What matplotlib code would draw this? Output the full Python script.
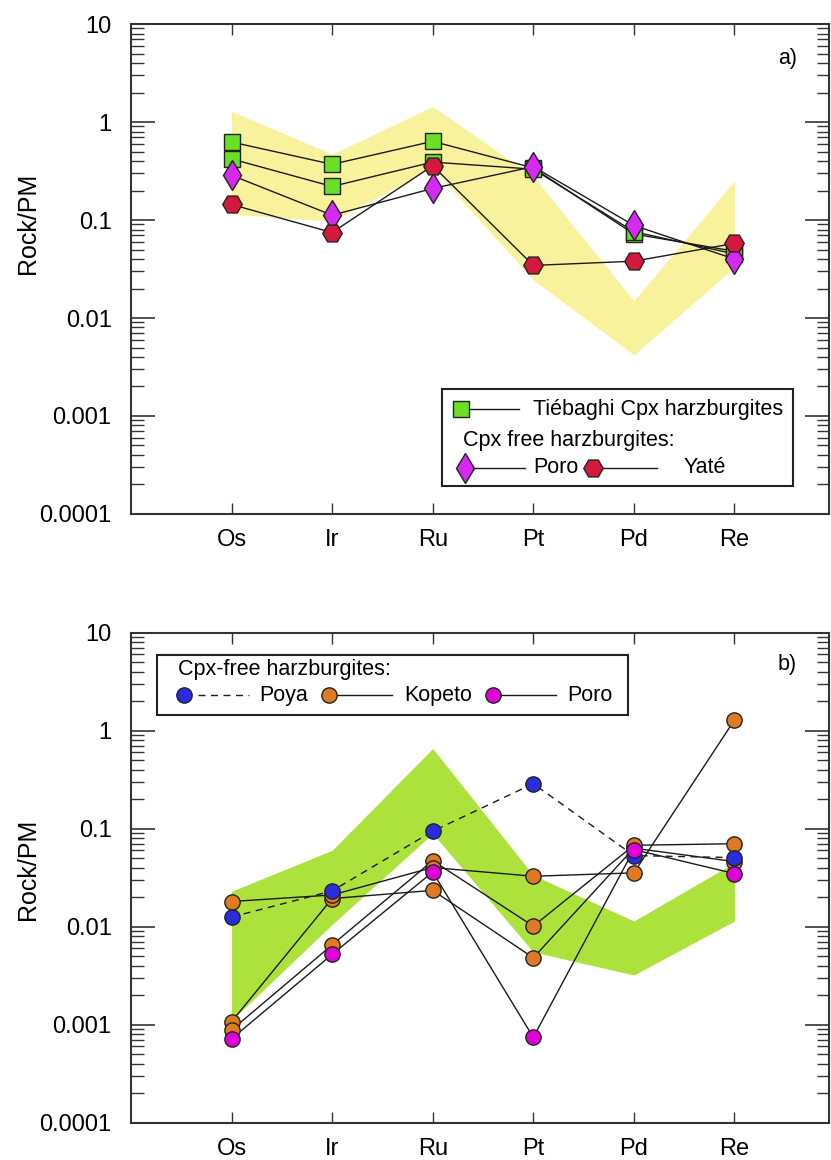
import matplotlib
matplotlib.use("Agg")
import matplotlib.pyplot as plt
from matplotlib.ticker import FixedLocator, LogLocator, NullFormatter
from matplotlib.patches import Rectangle

plt.rcParams['font.family'] = ['Liberation Sans', 'DejaVu Sans']

# categories
elements = ['Os', 'Ir', 'Ru', 'Pt', 'Pd', 'Re']
xpos = [1, 2, 3, 4, 5, 6]

# panel a) envelope (yellow field)
band_a_upper = [1.29, 0.47, 1.44, 0.28, 0.015, 0.25]
band_a_lower = [0.115, 0.097, 0.34, 0.0245, 0.0042, 0.033]

# panel a) Tiébaghi Cpx harzburgites
tieb_1 = [0.625, 0.37, 0.635, 0.34, 0.072, 0.048]
tieb_2 = [0.42, 0.22, 0.39, 0.33, 0.076, 0.045]
# panel a) Cpx free harzburgites
poro_a = [0.286, 0.112, 0.21, 0.35, 0.088, 0.040]
yate_a = [0.144, 0.0745, 0.358, 0.0344, 0.038, 0.0577]

# panel b) envelope (green field)
band_b_upper = [0.0229, 0.060, 0.656, 0.0334, 0.0114, 0.0448]
band_b_lower = [0.0011, 0.0105, 0.089, 0.0055, 0.0032, 0.0114]

# panel b) Cpx-free harzburgites
poya_b = [0.0125, 0.0231, 0.094, 0.287, 0.053, 0.0505]
kopeto_1 = [0.018, 0.021, 0.040, 0.0326, 0.0353, 1.28]
kopeto_2 = [0.00107, 0.0193, 0.0234, 0.0048, 0.063, 0.046]
kopeto_3 = [0.00088, 0.0065, 0.047, 0.0101, 0.0675, 0.070]
poro_b = [0.000715, 0.0052, 0.036, 0.00074, 0.061, 0.0347]

ytick_vals = [0.0001, 0.001, 0.01, 0.1, 1, 10]
ytick_labels = ['0.0001', '0.001', '0.01', '0.1', '1', '10']

LINE = '#1a1a1a'
EDGE = '#222222'
SPINE = '#333333'
DASH = (5, 4)


def setup_axes(ax, label_y):
    ax.set_yscale('log')
    ax.set_ylim(0.0001, 10)
    ax.set_xlim(0, 6.94)
    ax.set_xticks(xpos)
    ax.set_xticklabels(elements, fontsize=17)
    ax.yaxis.set_major_locator(FixedLocator(ytick_vals))
    ax.set_yticklabels(ytick_labels, fontsize=17)
    ax.yaxis.set_minor_locator(LogLocator(base=10, subs=range(2, 10), numticks=20))
    ax.yaxis.set_minor_formatter(NullFormatter())
    ax.tick_params(axis='y', which='major', direction='in', length=17, width=1.2,
                   left=True, right=True, pad=14, color=SPINE)
    ax.tick_params(axis='y', which='minor', direction='in', length=9, width=1.0,
                   left=True, right=True, color=SPINE)
    ax.tick_params(axis='x', which='major', direction='in', length=8, width=1.0,
                   top=True, bottom=True, pad=11, color=SPINE)
    for s in ax.spines.values():
        s.set_color(SPINE)
        s.set_linewidth(1.5)
    ax.set_ylabel('Rock/PM', fontsize=18)
    ax.yaxis.set_label_coords(-0.13, label_y)


def draw_series(ax, values, marker, color, size, z, ls='-'):
    ax.plot(xpos, values, color=LINE, lw=1.0, ls=ls, zorder=3,
            dashes=DASH if ls == '--' else (None, None))
    ax.plot(xpos, values, ls='none', marker=marker, ms=size, mfc=color,
            mec=EDGE, mew=1.0, zorder=z)


def legend_entry(ax, x0, x1, y, marker, color, size, ls='-'):
    kw = dict(transform=ax.transAxes, clip_on=False, zorder=12)
    if ls == '--':
        ax.plot([x0 + 0.02, x1], [y, y], color=LINE, lw=1.0, dashes=DASH, **kw)
    else:
        ax.plot([x0, x1], [y, y], color=LINE, lw=1.0, **kw)
    ax.plot([x0], [y], ls='none', marker=marker, ms=size, mfc=color,
            mec=EDGE, mew=1.0, **kw)


fig = plt.figure(figsize=(8.31, 11.6), dpi=100)

# ---------------- panel a ----------------
ax1 = fig.add_axes([0.1576, 0.5569, 0.84, 0.4224])
setup_axes(ax1, 0.594)
ax1.fill_between(xpos, band_a_lower, band_a_upper, color='#f8f29c', lw=0, zorder=1)

draw_series(ax1, tieb_1, 's', '#6ae024', 12, 5)
draw_series(ax1, tieb_2, 's', '#6ae024', 12, 5)
draw_series(ax1, poro_a, 'd', '#d42af2', 15, 6)
draw_series(ax1, yate_a, 'H', '#d41a3c', 14, 7)

ax1.text(0.941, 0.929, 'a)', transform=ax1.transAxes, fontsize=15.5,
         ha='center', va='center')

ax1.add_patch(Rectangle((0.4456, 0.057), 0.5024, 0.198, transform=ax1.transAxes,
                        facecolor='white', edgecolor='#222222', lw=1.5, zorder=10))
legend_entry(ax1, 0.473, 0.556, 0.214, 's', '#6ae024', 12)
ax1.text(0.576, 0.214, 'Tiébaghi Cpx harzburgites', transform=ax1.transAxes,
         fontsize=15.5, va='center', ha='left', zorder=12)
ax1.text(0.4756, 0.149, 'Cpx free harzburgites:', transform=ax1.transAxes,
         fontsize=15.5, va='center', ha='left', zorder=12)
legend_entry(ax1, 0.4785, 0.5645, 0.094, 'd', '#d42af2', 15)
ax1.text(0.577, 0.094, 'Poro', transform=ax1.transAxes, fontsize=15.5,
         va='center', ha='left', zorder=12)
legend_entry(ax1, 0.662, 0.7536, 0.094, 'H', '#d41a3c', 14)
ax1.text(0.792, 0.094, 'Yaté', transform=ax1.transAxes, fontsize=15.5,
         va='center', ha='left', zorder=12)

# ---------------- panel b ----------------
ax2 = fig.add_axes([0.1576, 0.0323, 0.84, 0.4224])
setup_axes(ax2, 0.517)
ax2.fill_between(xpos, band_b_lower, band_b_upper, color='#ade23c', lw=0, zorder=1)

draw_series(ax2, kopeto_2, 'o', '#e07a22', 11, 5)
draw_series(ax2, kopeto_3, 'o', '#e07a22', 11, 5)
draw_series(ax2, kopeto_1, 'o', '#e07a22', 11, 5)
draw_series(ax2, poya_b, 'o', '#2b2be0', 11, 6, ls='--')
draw_series(ax2, poro_b, 'o', '#e000d8', 11, 7)

ax2.text(0.94, 0.934, 'b)', transform=ax2.transAxes, fontsize=15.5,
         ha='center', va='center')

ax2.add_patch(Rectangle((0.0372, 0.8316), 0.6748, 0.1224, transform=ax2.transAxes,
                        facecolor='white', edgecolor='#222222', lw=1.5, zorder=10))
ax2.text(0.0673, 0.9255, 'Cpx-free harzburgites:', transform=ax2.transAxes,
         fontsize=15.5, va='center', ha='left', zorder=12)
legend_entry(ax2, 0.0759, 0.169, 0.8724, 'o', '#2b2be0', 11, ls='--')
ax2.text(0.1834, 0.8724, 'Poya', transform=ax2.transAxes, fontsize=15.5,
         va='center', ha='left', zorder=12)
legend_entry(ax2, 0.2837, 0.374, 0.8724, 'o', '#e07a22', 11)
ax2.text(0.391, 0.8724, 'Kopeto', transform=ax2.transAxes, fontsize=15.5,
         va='center', ha='left', zorder=12)
legend_entry(ax2, 0.5186, 0.609, 0.8724, 'o', '#e000d8', 11)
ax2.text(0.6246, 0.8724, 'Poro', transform=ax2.transAxes, fontsize=15.5,
         va='center', ha='left', zorder=12)

fig.savefig('out.png', dpi=100, facecolor='white')
